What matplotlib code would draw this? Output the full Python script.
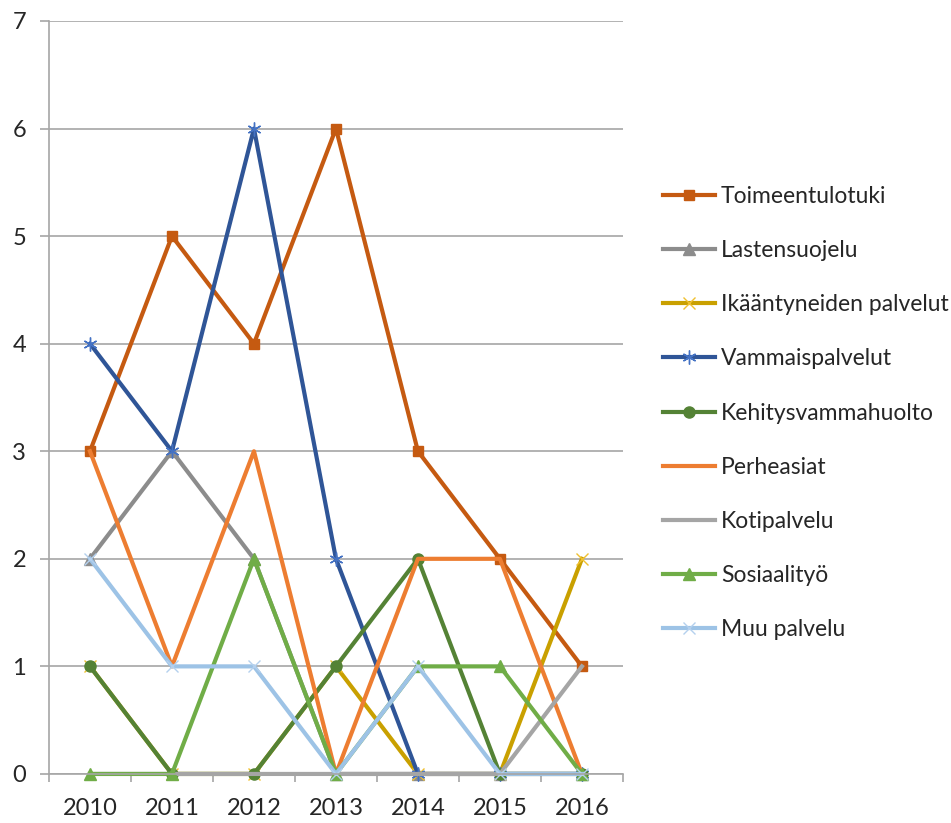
import numpy as np
import matplotlib
matplotlib.use('Agg')
import matplotlib.pyplot as plt

plt.rcParams['font.family'] = ['Lato', 'DejaVu Sans']

years = ['2010', '2011', '2012', '2013', '2014', '2015', '2016']
names = ['Toimeentulotuki', 'Lastensuojelu', 'Ikääntyneiden palvelut',
         'Vammaispalvelut', 'Kehitysvammahuolto', 'Perheasiat',
         'Kotipalvelu', 'Sosiaalityö', 'Muu palvelu']

toimeentulotuki = [3, 5, 4, 6, 3, 2, 1]
lastensuojelu = [2, 3, 2, 0, 0, 0, 0]
ikaantyneet = [1, 0, 0, 1, 0, 0, 2]
vammais = [4, 3, 6, 2, 0, 0, 0]
kehitysvamma = [1, 0, 0, 1, 2, 0, 0]
perheasiat = [3, 1, 3, 0, 2, 2, 0]
kotipalvelu = [0, 0, 0, 0, 0, 0, 1]
sosiaalityo = [0, 0, 2, 0, 1, 1, 0]
muu = [2, 1, 1, 0, 1, 0, 0]

series = [toimeentulotuki, lastensuojelu, ikaantyneet, vammais, kehitysvamma,
          perheasiat, kotipalvelu, sosiaalityo, muu]

# line colour, marker, marker colour, marker size
styles = [
    ('#C55A11', 's', '#C55A11', 7.5),
    ('#8C8C8C', '^', '#8C8C8C', 8),
    ('#C9A000', 'x', '#F0C030', 9),
    ('#2F5597', (6, 2, 0), '#4472C4', 10),
    ('#548235', 'o', '#548235', 8),
    ('#ED7D31', None, '#ED7D31', 0),
    ('#A5A5A5', None, '#A5A5A5', 0),
    ('#70AD47', '^', '#70AD47', 8.5),
    ('#9DC3E6', 'x', '#B4D0EE', 9),
]

fig = plt.figure(figsize=(9.51, 8.23), dpi=100)
ax = fig.add_axes([0.0515, 0.0596, 0.6035, 0.9149])

x = np.arange(len(years))
for name, vals, (lc, mk, mc, ms) in zip(names, series, styles):
    if mk is None:
        ax.plot(x, vals, color=lc, lw=3, label=name, solid_joinstyle='round',
                clip_on=False)
    else:
        ax.plot(x, vals, color=lc, lw=3, label=name, marker=mk, ms=ms,
                mfc=mc, mec=mc, mew=1, solid_joinstyle='round', clip_on=False)

ax.set_xlim(-0.5, len(years) - 0.5)
ax.set_ylim(0, 7)
ax.set_yticks(range(0, 8))
ax.set_xticks(x)
ax.set_xticklabels(years)
ax.set_xticks(np.arange(-0.5, len(years)), minor=True)
ax.tick_params(axis='x', which='major', length=0, pad=17.5, labelsize=17, colors='#262626')
ax.tick_params(axis='x', which='minor', length=6, width=1.2, color='#A6A6A6')
ax.tick_params(axis='y', length=6.5, width=1.2, color='#A6A6A6', labelsize=17,
               pad=10, labelcolor='#262626')
ax.grid(axis='y', color='#A6A6A6', lw=1.2)
ax.set_axisbelow(True)
for s in ['top', 'right']:
    ax.spines[s].set_visible(False)
for s in ['left', 'bottom']:
    ax.spines[s].set_color('#A6A6A6')
    ax.spines[s].set_linewidth(1.2)

leg = fig.legend(loc='upper left', bbox_to_anchor=(0.697, 0.774), frameon=False,
                 fontsize=16.5, handlelength=2.27, handletextpad=0.26,
                 labelspacing=1.446, borderaxespad=0, borderpad=0)
for t in leg.get_texts():
    t.set_color('#262626')

fig.savefig('out.png', dpi=100)
